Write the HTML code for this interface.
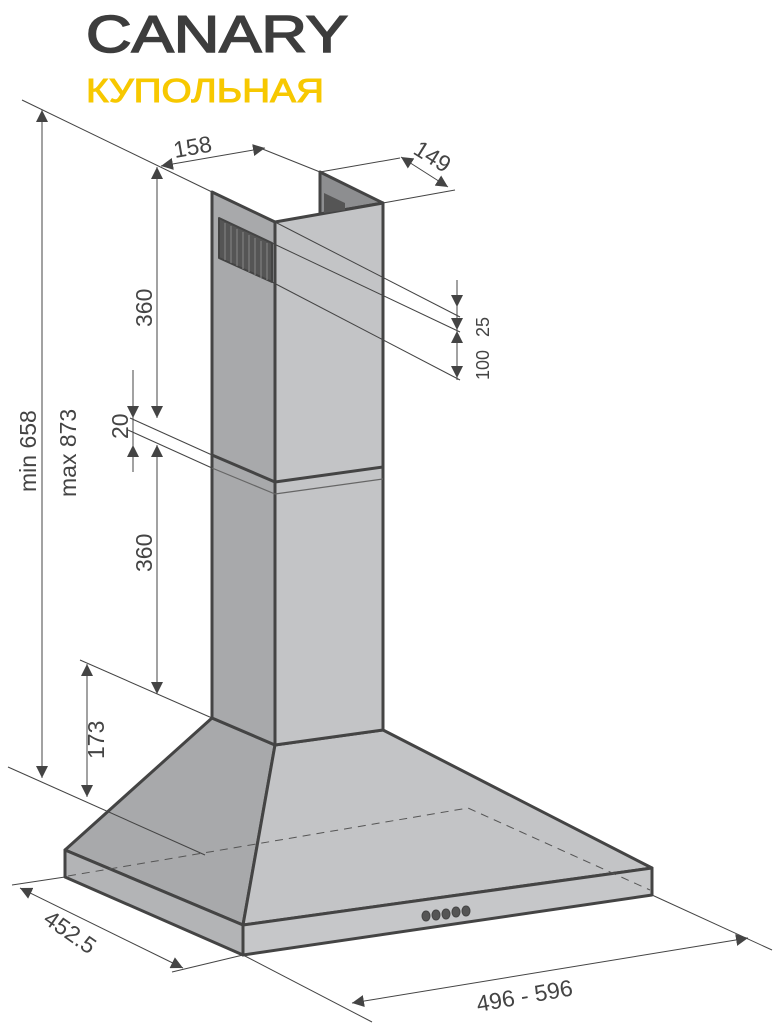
<!DOCTYPE html>
<html><head><meta charset="utf-8"><style>html,body{margin:0;padding:0;background:#fff}svg{display:block}</style></head>
<body>
<svg width="776" height="1025" viewBox="0 0 776 1025" xmlns="http://www.w3.org/2000/svg" font-family="Liberation Sans, DejaVu Sans, sans-serif">
<defs>
<marker id="a" viewBox="0 0 10 10" refX="10" refY="5" markerWidth="12" markerHeight="12" markerUnits="userSpaceOnUse" orient="auto-start-reverse"><path d="M0,0L10,5L0,10z" fill="#444"/></marker>
</defs>
<text x="86" y="52" font-size="52" fill="#3d3d3d" stroke="#3d3d3d" stroke-width="1.6" textLength="262" lengthAdjust="spacingAndGlyphs">CANARY</text>
<text x="86" y="102" font-size="33" fill="#f7c800" stroke="#f7c800" stroke-width="1" textLength="238" lengthAdjust="spacingAndGlyphs" font-family="Liberation Sans, DejaVu Sans, sans-serif">КУПОЛЬНАЯ</text>

<g stroke="#444" stroke-width="3" stroke-linejoin="round">
<polygon points="212,718 275,745 243,925 65,850" fill="#a8a9ab"/>
<polygon points="275,745 383,730 652,868 243,925" fill="#c3c4c6"/>
<polygon points="65,850 243,925 243,955 65,877" fill="#b3b4b6"/>
<polygon points="243,925 652,868 652,895 243,955" fill="#c6c7c9"/>
<polygon points="320,172 383,203 320,214" fill="#8d8e90"/>
<polygon points="212,192 275,222 275,745 212,718" fill="#a8a9ab"/>
<polygon points="275,222 383,203 383,730 275,745" fill="#c3c4c6"/>
<line x1="212" y1="455" x2="275" y2="482"/>
<line x1="275" y1="482" x2="383" y2="467"/>
</g>
<line x1="275" y1="494" x2="383" y2="479" stroke="#666" stroke-width="1.2"/>
<line x1="212" y1="468" x2="275" y2="494" stroke="#666" stroke-width="1.2"/>
<path d="M219,218 L272,243 L272,282 L219,258 Z" fill="#555" stroke="#444" stroke-width="2" stroke-linejoin="round"/>
<g stroke="#888" stroke-width="1">
<line x1="225" y1="223" x2="225" y2="260"/><line x1="231" y1="226" x2="231" y2="263"/><line x1="237" y1="229" x2="237" y2="266"/><line x1="243" y1="232" x2="243" y2="269"/><line x1="249" y1="235" x2="249" y2="272"/><line x1="255" y1="238" x2="255" y2="275"/><line x1="261" y1="241" x2="261" y2="278"/><line x1="267" y1="243" x2="267" y2="280"/>
</g>
<path d="M324,193 L345,203 L345,210 L324,213Z" fill="#555"/>
<g stroke="#555" stroke-width="1" stroke-dasharray="8,6" fill="none">
<polyline points="68,876 468,808 650,890"/>
</g>
<g fill="#555" stroke="#444"><ellipse cx="426" cy="916" rx="4" ry="5"/><ellipse cx="436" cy="915" rx="4" ry="5"/><ellipse cx="446" cy="914" rx="4" ry="5"/><ellipse cx="456" cy="912" rx="4" ry="5"/><ellipse cx="466" cy="911" rx="4" ry="5"/></g>

<g stroke="#444" stroke-width="1" fill="none">
<line x1="22" y1="100" x2="212" y2="192"/>
<line x1="255" y1="146" x2="320" y2="172"/>
<line x1="320" y1="172" x2="400" y2="158"/>
<line x1="383" y1="203" x2="455" y2="190"/>
<line x1="275" y1="222" x2="460" y2="317"/>
<line x1="272" y1="243" x2="460" y2="332"/>
<line x1="272" y1="282" x2="460" y2="380"/>
<line x1="130" y1="418" x2="212" y2="455"/>
<line x1="128" y1="430" x2="212" y2="468"/>
<line x1="80" y1="660" x2="212" y2="718"/>
<line x1="8" y1="767" x2="205" y2="855"/>
<line x1="12" y1="885" x2="65" y2="877"/>
<line x1="172" y1="972" x2="243" y2="955"/>
<line x1="243" y1="955" x2="372" y2="1022"/>
<line x1="652" y1="895" x2="772" y2="950"/>
<line x1="133" y1="370" x2="133" y2="472"/>
<line x1="457" y1="280" x2="457" y2="380"/>
</g>
<g stroke="#444" stroke-width="1" fill="none" marker-start="url(#a)" marker-end="url(#a)">
<line x1="42" y1="110" x2="42" y2="778"/>
<line x1="157" y1="167" x2="157" y2="418"/>
<line x1="157" y1="445" x2="157" y2="694"/>
<line x1="87" y1="664" x2="87" y2="797"/>
<line x1="161" y1="166" x2="265" y2="148"/>
<line x1="401" y1="157" x2="448" y2="187"/>
<line x1="20" y1="888" x2="183" y2="968"/>
<line x1="352" y1="1003" x2="748" y2="938"/>
</g>
<g stroke="#444" stroke-width="1" marker-end="url(#a)">
<line x1="133" y1="398" x2="133" y2="418"/>
<line x1="133" y1="467" x2="133" y2="445"/>
<line x1="457" y1="285" x2="457" y2="307"/>
<line x1="457" y1="318" x2="457" y2="330"/>
<line x1="457" y1="343" x2="457" y2="331"/>
<line x1="457" y1="365" x2="457" y2="378"/>
</g>
<g fill="#444" font-size="23">
<text transform="translate(36,492) rotate(-90)">min 658</text>
<text transform="translate(76,497) rotate(-90)">max 873</text>
<text transform="translate(152,327) rotate(-90)">360</text>
<text transform="translate(152,572) rotate(-90)">360</text>
<text transform="translate(128,439) rotate(-90)">20</text>
<text transform="translate(104,759) rotate(-90)">173</text>
<text transform="translate(175,158) rotate(-10)">158</text>
<text transform="translate(412,153) rotate(32)">149</text>
<text transform="translate(489,337) rotate(-90)" font-size="18">25</text>
<text transform="translate(489,380) rotate(-90)" font-size="18">100</text>
<text transform="translate(42,922) rotate(35)">452.5</text>
<text transform="translate(478,1012) rotate(-10)">496 - 596</text>
</g>
</svg>
</body></html>
